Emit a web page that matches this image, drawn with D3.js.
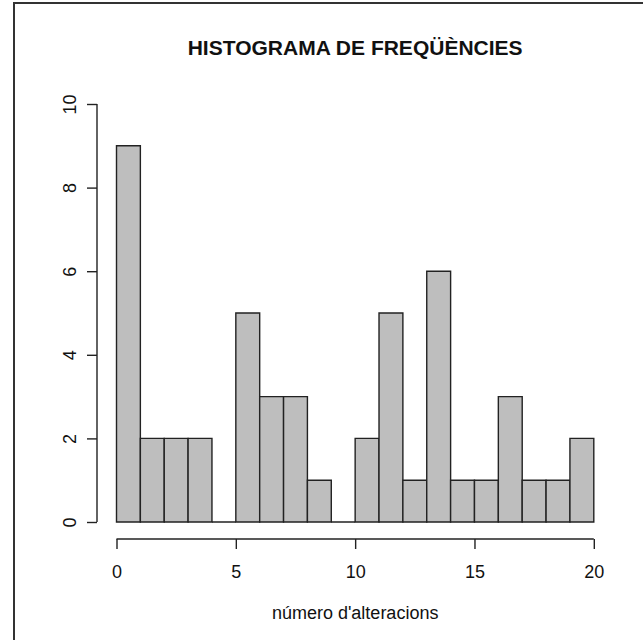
<!DOCTYPE html>
<html>
<head>
<meta charset="utf-8">
<script src="https://cdn.jsdelivr.net/npm/d3@7"></script>
<style>
  html, body { margin: 0; padding: 0; background: #fff; }
  svg { display: block; }
  text { font-family: "Liberation Sans", Arial, sans-serif; fill: #111; }
</style>
</head>
<body>
<svg id="chart" width="643" height="640"></svg>
<script>
// Histogram of the number of alterations, unit-width bins from 0 to 20
const binStarts = [0, 1, 2, 3, 4, 5, 6, 7, 8, 9, 10, 11, 12, 13, 14, 15, 16, 17, 18, 19];
const counts    = [9, 2, 2, 2, 0, 5, 3, 3, 1, 0, 2, 5, 1, 6, 1, 1, 3, 1, 1, 2];
const xTicks = [0, 5, 10, 15, 20];
const yTicks = [0, 2, 4, 6, 8, 10];
const titleText = "HISTOGRAMA DE FREQÜÈNCIES";
const xLabel = "número d'alteracions";

const svg = d3.select("#chart");

const x = d3.scaleLinear().domain([0, 20]).range([116.5, 593.8]);
const y = d3.scaleLinear().domain([0, 10]).range([522, 104]);

// Outer frame
svg.append("path")
  .attr("d", "M14,640 L14,3 L643,3")
  .attr("fill", "none")
  .attr("stroke", "#333")
  .attr("stroke-width", 2);

// Bars drawn as closed paths so empty bins still show their base line
svg.append("g")
  .selectAll("path")
  .data(binStarts.map((s, i) => ({ x0: s, x1: s + 1, n: counts[i] })))
  .join("path")
  .attr("d", d => {
    const l = x(d.x0), r = x(d.x1), t = y(d.n), b = y(0);
    return `M${l},${b}L${l},${t}L${r},${t}L${r},${b}Z`;
  })
  .attr("fill", "#bebebe")
  .attr("stroke", "#222")
  .attr("stroke-width", 1.4);

// X axis, offset below the bars
const xAxis = svg.append("g")
  .attr("transform", "translate(0,539)")
  .call(d3.axisBottom(x).tickValues(xTicks).tickSize(10).tickPadding(16).tickSizeOuter(0)
    .tickFormat(d3.format("d")));
xAxis.select(".domain").attr("stroke", "#222").attr("stroke-width", 1.4)
  .attr("d", `M${x(0)},0H${x(20)}`);
xAxis.selectAll(".tick line").attr("stroke", "#222").attr("stroke-width", 1.4);
xAxis.selectAll(".tick text").attr("font-size", 18).attr("font-family", "Liberation Sans, Arial, sans-serif").attr("fill", "#111");

// Y axis, offset to the left, labels rotated
const yAxis = svg.append("g")
  .attr("transform", "translate(97,0)")
  .call(d3.axisLeft(y).tickValues(yTicks).tickSize(10).tickSizeOuter(0)
    .tickFormat(d3.format("d")));
yAxis.select(".domain").attr("stroke", "#222").attr("stroke-width", 1.4)
  .attr("d", `M0,${y(0)}V${y(10)}`);
yAxis.selectAll(".tick line").attr("stroke", "#222").attr("stroke-width", 1.4);
yAxis.selectAll(".tick text")
  .attr("font-size", 18).attr("font-family", "Liberation Sans, Arial, sans-serif").attr("fill", "#111")
  .attr("x", null).attr("dy", null)
  .attr("text-anchor", "middle")
  .attr("transform", "translate(-21,0) rotate(-90)");

// Title
svg.append("text")
  .attr("x", (x(0) + x(20)) / 2)
  .attr("y", 55)
  .attr("text-anchor", "middle")
  .attr("font-size", 21)
  .attr("font-weight", "bold")
  .text(titleText);

// X axis title
svg.append("text")
  .attr("x", (x(0) + x(20)) / 2)
  .attr("y", 619)
  .attr("text-anchor", "middle")
  .attr("font-size", 18)
  .text(xLabel);
</script>
</body>
</html>
